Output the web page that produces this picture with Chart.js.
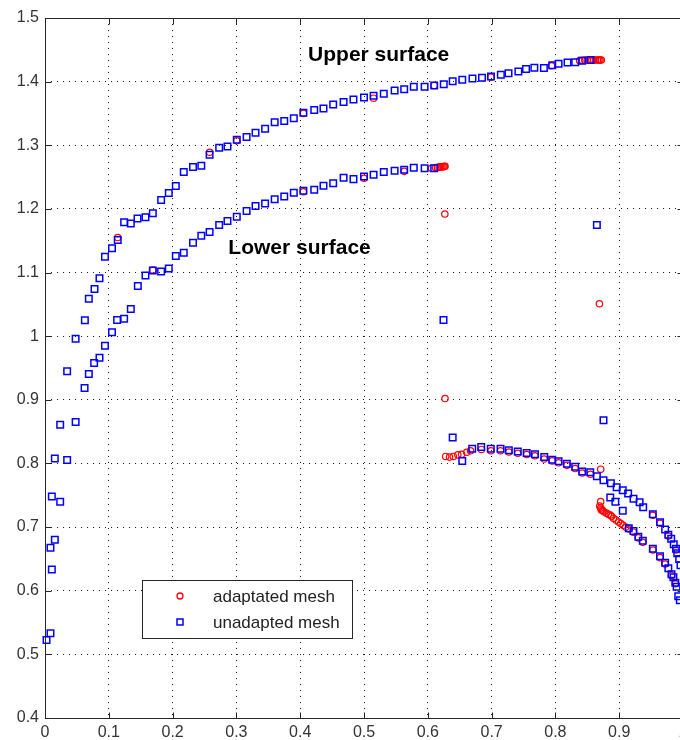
<!DOCTYPE html>
<html>
<head>
<meta charset="utf-8">
<script src="https://cdn.jsdelivr.net/npm/chart.js@4/dist/chart.umd.min.js"></script>
<style>
  html, body { margin: 0; padding: 0; background: #fff; overflow: hidden; }
  #wrap { width: 700px; height: 740px; }
</style>
</head>
<body>
<div id="wrap"><canvas id="meshChart" width="700" height="740"></canvas></div>
<script>
// series labels
const seriesNames = ['adaptated mesh', 'unadapted mesh'];
const surfaceLabels = ['Upper surface', 'Lower surface'];

// axis ranges / tick steps
const xRange = [0, 1];
const yRange = [0.4, 1.5];
const tickStep = 0.1;

// red circles
const adaptedPts = [
  [0.114, 1.155], [0.169, 1.104], [0.258, 1.289], [0.500, 1.248], [0.515, 1.374], [0.563, 1.259],
  [0.3006, 1.307], [0.405, 1.350], [0.405, 1.227], [0.610, 1.394], [0.699, 1.407], [0.794, 1.425],
  [0.838, 1.433], [0.842, 1.4335], [0.846, 1.434], [0.850, 1.434], [0.854, 1.434], [0.857, 1.434],
  [0.860, 1.434], [0.863, 1.434], [0.866, 1.434], [0.868, 1.434], [0.870, 1.434], [0.872, 1.434],
  [0.606, 1.264], [0.612, 1.265], [0.615, 1.265], [0.618, 1.266], [0.620, 1.266], [0.622, 1.266],
  [0.624, 1.2665], [0.626, 1.2665], [0.627, 1.267],
  [0.6267, 1.192], [0.627, 0.902], [0.869, 1.051], [0.871, 0.791],
  [0.628, 0.811], [0.634, 0.810], [0.640, 0.811], [0.647, 0.8135], [0.653, 0.8145], [0.661, 0.8176],
  [0.667, 0.820], [0.684, 0.822], [0.699, 0.820], [0.714, 0.820], [0.727, 0.818], [0.741, 0.816],
  [0.755, 0.814], [0.768, 0.812], [0.7825, 0.807], [0.795, 0.804], [0.805, 0.801], [0.818, 0.797],
  [0.831, 0.792], [0.842, 0.785], [0.855, 0.783], [0.9527, 0.7185], [0.964, 0.706], [0.977, 0.686],
  [0.989, 0.664],
  [0.871, 0.740], [0.8695, 0.733], [0.871, 0.730], [0.872, 0.727], [0.874, 0.726], [0.876, 0.724],
  [0.8796, 0.722], [0.883, 0.720], [0.886, 0.719], [0.888, 0.717], [0.891, 0.714], [0.895, 0.711],
  [0.899, 0.708], [0.9025, 0.7056], [0.906, 0.703], [0.910, 0.700], [0.915, 0.697], [0.922, 0.692],
  [0.930, 0.683], [0.937, 0.676], [0.953, 0.664], [0.964, 0.652], [0.972, 0.642], [0.982, 0.624],
  [0.988, 0.611]
];

// blue squares
const unadaptedPts = [
  [0.0024, 0.5225], [0.0086, 0.533], [0.0107, 0.6335], [0.0086, 0.6675], [0.0154, 0.680],
  [0.0107, 0.748], [0.0238, 0.7397], [0.0154, 0.8077], [0.0347, 0.8056], [0.0238, 0.861],
  [0.048, 0.8653], [0.0347, 0.945], [0.062, 0.9187], [0.0687, 0.9406],
  // upper surface
  [0.048, 0.996], [0.0625, 1.025], [0.0687, 1.059], [0.0776, 1.074], [0.0854, 1.091], [0.094, 1.125],
  [0.105, 1.138], [0.114, 1.151], [0.124, 1.179], [0.1345, 1.177], [0.145, 1.185], [0.1575, 1.187],
  [0.169, 1.193], [0.182, 1.214], [0.194, 1.225], [0.205, 1.236], [0.2175, 1.258], [0.232, 1.266],
  [0.245, 1.268], [0.258, 1.285], [0.273, 1.296], [0.286, 1.298], [0.3006, 1.3085], [0.316, 1.313],
  [0.330, 1.3195], [0.345, 1.326], [0.360, 1.336], [0.375, 1.338], [0.390, 1.3425], [0.405, 1.351],
  [0.422, 1.3556], [0.4365, 1.3577], [0.4517, 1.364], [0.468, 1.368], [0.4835, 1.372], [0.500, 1.375],
  [0.515, 1.378], [0.531, 1.381], [0.548, 1.386], [0.563, 1.388], [0.578, 1.392], [0.595, 1.392],
  [0.610, 1.394], [0.625, 1.396], [0.639, 1.4006], [0.654, 1.403], [0.670, 1.405], [0.685, 1.406],
  [0.699, 1.408], [0.7145, 1.411], [0.7265, 1.413], [0.742, 1.416], [0.754, 1.420], [0.767, 1.422],
  [0.782, 1.4215], [0.795, 1.4257], [0.805, 1.428], [0.819, 1.430], [0.831, 1.4305], [0.842, 1.433],
  [0.855, 1.434],
  // lower surface
  [0.077, 0.958], [0.0854, 0.966], [0.094, 0.985], [0.105, 1.006], [0.113, 1.0255], [0.124, 1.0275],
  [0.1345, 1.0427], [0.1455, 1.0788], [0.1575, 1.0955], [0.169, 1.1033], [0.182, 1.1017], [0.194, 1.1065],
  [0.205, 1.126], [0.2175, 1.131], [0.232, 1.147], [0.245, 1.158], [0.258, 1.1636], [0.273, 1.1746],
  [0.286, 1.181], [0.3006, 1.1876], [0.316, 1.1966], [0.330, 1.2044], [0.345, 1.2085], [0.360, 1.215],
  [0.375, 1.2195], [0.390, 1.2253], [0.405, 1.2284], [0.422, 1.230], [0.4365, 1.2363], [0.4517, 1.2405],
  [0.468, 1.2488], [0.4835, 1.2468], [0.500, 1.251], [0.515, 1.2535], [0.531, 1.258], [0.548, 1.260],
  [0.563, 1.2614], [0.578, 1.2645], [0.595, 1.264], [0.610, 1.264],
  // stray points
  [0.6246, 1.0254], [0.865, 1.1746], [0.639, 0.8406], [0.654, 0.804], [0.8754, 0.868],
  // upper arc
  [0.6696, 0.823], [0.6837, 0.826], [0.6987, 0.823], [0.714, 0.823], [0.727, 0.8207], [0.741, 0.8187],
  [0.755, 0.8166], [0.768, 0.8145], [0.7825, 0.810], [0.795, 0.806], [0.805, 0.8035], [0.818, 0.7994],
  [0.831, 0.795], [0.842, 0.7873], [0.8546, 0.786], [0.865, 0.780], [0.8754, 0.7736], [0.887, 0.769],
  [0.896, 0.7626], [0.9056, 0.758], [0.914, 0.7527], [0.9224, 0.7444], [0.932, 0.739], [0.9376, 0.7313],
  [0.9527, 0.7203], [0.964, 0.7077], [0.972, 0.6962], [0.977, 0.6879], [0.9815, 0.6816], [0.9855, 0.6732],
  [0.989, 0.666], [0.991, 0.659], [0.994, 0.650], [0.996, 0.640],
  // lower arc
  [0.886, 0.7465], [0.894, 0.740], [0.9056, 0.7256], [0.915, 0.698], [0.9224, 0.694], [0.930, 0.6848],
  [0.937, 0.6785], [0.9527, 0.666], [0.964, 0.6543], [0.972, 0.644], [0.977, 0.6355], [0.982, 0.626],
  [0.985, 0.621], [0.988, 0.6126], [0.990, 0.6063], [0.9925, 0.5915], [0.995, 0.585]
];

const toXY = pts => pts.map(p => ({ x: p[0], y: p[1] }));
const fmtTick = v => String(+v.toFixed(1));

const axisColor = '#262626';
const tickFont = { family: '"Liberation Sans", Arial, sans-serif', size: 16 };

// MATLAB-like frame, inward ticks, labels and legend
const decorations = {
  id: 'decorations',
  afterDraw(chart) {
    const { ctx, chartArea: a, scales: { x, y } } = chart;
    const L = Math.round(a.left) + 0.5, R = Math.round(a.right) + 0.5;
    const T = Math.round(a.top) + 0.5, B = Math.round(a.bottom) + 0.5;
    ctx.save();
    ctx.strokeStyle = axisColor;
    ctx.lineWidth = 1;
    ctx.strokeRect(L, T, R - L, B - T);
    ctx.beginPath();
    x.ticks.forEach(t => {
      const px = Math.round(x.getPixelForValue(t.value)) + 0.5;
      ctx.moveTo(px, B); ctx.lineTo(px, B - 6);
      ctx.moveTo(px, T); ctx.lineTo(px, T + 6);
    });
    y.ticks.forEach(t => {
      const py = Math.round(y.getPixelForValue(t.value)) + 0.5;
      ctx.moveTo(L, py); ctx.lineTo(L + 6, py);
      ctx.moveTo(R, py); ctx.lineTo(R - 6, py);
    });
    ctx.stroke();

    // surface labels
    ctx.fillStyle = '#000';
    ctx.font = 'bold 21px "Liberation Sans", Arial, sans-serif';
    ctx.textAlign = 'center';
    ctx.textBaseline = 'middle';
    ctx.fillText(surfaceLabels[0], x.getPixelForValue(0.523), y.getPixelForValue(1.442));
    ctx.fillText(surfaceLabels[1], x.getPixelForValue(0.399), y.getPixelForValue(1.139));

    // legend box
    const bx = 142.5, by = 580.5, bw = 210, bh = 58;
    ctx.fillStyle = '#fff';
    ctx.fillRect(bx, by, bw, bh);
    ctx.strokeStyle = axisColor;
    ctx.strokeRect(bx, by, bw, bh);
    ctx.lineWidth = 1.3;
    ctx.strokeStyle = '#ff0000';
    ctx.beginPath();
    ctx.arc(180, 596, 3, 0, Math.PI * 2);
    ctx.stroke();
    ctx.strokeStyle = '#0000ff';
    ctx.lineWidth = 1.5;
    ctx.strokeRect(177, 619, 6, 6);
    ctx.fillStyle = '#222';
    ctx.font = '17px "Liberation Sans", Arial, sans-serif';
    ctx.textAlign = 'left';
    ctx.fillText(seriesNames[0], 213, 597);
    ctx.fillText(seriesNames[1], 213, 623);
    ctx.restore();
  }
};

new Chart(document.getElementById('meshChart'), {
  type: 'scatter',
  data: {
    datasets: [
      {
        label: seriesNames[0],
        data: toXY(adaptedPts),
        pointStyle: 'circle',
        pointRadius: 3.2,
        pointHoverRadius: 3.2,
        borderColor: '#ff0000',
        backgroundColor: 'rgba(0,0,0,0)',
        borderWidth: 1.2,
        order: 2,
        clip: false
      },
      {
        label: seriesNames[1],
        data: toXY(unadaptedPts),
        pointStyle: 'rect',
        pointRadius: 4.6,
        pointHoverRadius: 4.6,
        borderColor: '#0000ff',
        backgroundColor: 'rgba(0,0,0,0)',
        borderWidth: 1.5,
        order: 1,
        clip: false
      }
    ]
  },
  options: {
    responsive: false,
    animation: false,
    devicePixelRatio: 1,
    layout: { padding: { left: 0, top: 18, right: 17, bottom: 0 } },
    plugins: { legend: { display: false }, tooltip: { enabled: false } },
    scales: {
      x: {
        type: 'linear',
        min: xRange[0],
        max: xRange[1],
        ticks: { stepSize: tickStep, color: '#333', font: tickFont, padding: 5, maxRotation: 0, callback: fmtTick },
        grid: { color: 'rgba(0,0,0,0.9)', lineWidth: 1, drawTicks: false },
        border: { display: false, dash: [1, 5] },
        afterFit: s => { s.height = 22; }
      },
      y: {
        type: 'linear',
        min: yRange[0],
        max: yRange[1],
        ticks: { stepSize: tickStep, color: '#333', font: tickFont, padding: 6, callback: fmtTick },
        grid: { color: 'rgba(0,0,0,0.9)', lineWidth: 1, drawTicks: false },
        border: { display: false, dash: [1, 5] },
        afterFit: s => { s.width = 45; }
      }
    }
  },
  plugins: [decorations]
});
</script>
</body>
</html>
